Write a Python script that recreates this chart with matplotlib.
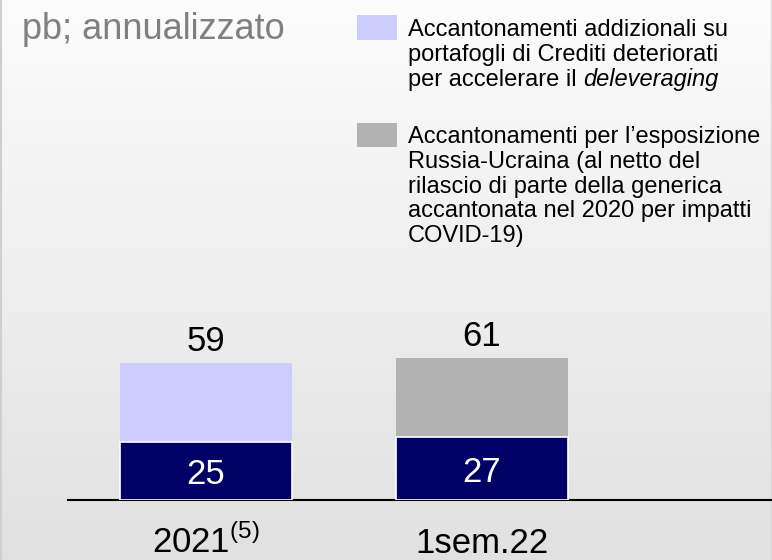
import numpy as np
import matplotlib
matplotlib.use("Agg")
import matplotlib.pyplot as plt
from matplotlib.patches import Rectangle

plt.rcParams['font.family'] = ['Liberation Sans', 'DejaVu Sans']
plt.rcParams['mathtext.fontset'] = 'custom'
plt.rcParams['mathtext.rm'] = 'Liberation Sans'

# data (pb, annualised)
categories = ["2021$^{\\mathrm{(5)}}$", "1sem.22"]
base_values = [25, 27]
extra_values = [34, 34]
totals = [59, 61]
extra_colors = ["#ccccff", "#b2b2b2"]
legend_lines = [
    ["Accantonamenti addizionali su", "portafogli di Crediti deteriorati", "per accelerare il"],
    ["Accantonamenti per l\u2019esposizione", "Russia-Ucraina (al netto del",
     "rilascio di parte della generica", "accantonata nel 2020 per impatti", "COVID-19)"],
]
legend_italic_tail = ["deleveraging", None]
title = "pb; annualizzato"

W, H = 772, 560
NAVY = "#000066"
LEG_FS = 17

fig = plt.figure(figsize=(W / 100, H / 100), dpi=100)


def fx(px):
    return px / W


def fy(py):
    return 1 - py / H


# gradient background
bg = fig.add_axes([0, 0, 1, 1], zorder=-10)
grad = np.linspace(252, 225, 256).reshape(-1, 1) / 255.0
bg.imshow(np.dstack([grad, grad, grad]), aspect='auto', extent=[0, 1, 0, 1])
bg.axvline(0.001, color="#cfcfcf", lw=1.5)
bg.axvline(fx(770.5), color="#d8d8d8", lw=1.0)
bg.set_xlim(0, 1)
bg.set_ylim(0, 1)
bg.axis('off')

# main bar axes
px_per_unit = 2.32
ax_left, ax_right, ax_bottom, ax_top = 68, 772, 500, 300
ax = fig.add_axes([fx(ax_left), fy(ax_bottom), fx(ax_right - ax_left), (ax_bottom - ax_top) / H])
ax.patch.set_alpha(0)
spacing = 275.5
ax.set_xlim(-(206 - ax_left) / spacing, (ax_right - 206) / spacing)
ax.set_ylim(0, (ax_bottom - ax_top) / px_per_unit)

x = np.arange(len(categories))
width = 172 / spacing
ax.bar(x, base_values, width=width, color=NAVY, edgecolor="white", linewidth=1.2, zorder=3)
ax.bar(x, extra_values, width=width, bottom=base_values, color=extra_colors, linewidth=0, zorder=2)

for i in range(len(categories)):
    ax.annotate(str(base_values[i]), xy=(x[i], base_values[i] / 2), xytext=(0, -9.5),
                textcoords='offset points', ha='center', va='baseline',
                color="white", fontsize=25)
    ax.annotate(str(totals[i]), xy=(x[i], totals[i]), xytext=(0, 9),
                textcoords='offset points', ha='center', va='baseline',
                color="black", fontsize=25)
    ax.annotate(categories[i], xy=(x[i], 0), xycoords=ax.get_xaxis_transform(),
                xytext=(0, -38), textcoords='offset points', ha='center', va='baseline',
                color="black", fontsize=25)

for s in ['top', 'right', 'left']:
    ax.spines[s].set_visible(False)
ax.spines['bottom'].set_linewidth(1.5)
ax.spines['bottom'].set_color('black')
ax.set_xticks([])
ax.set_yticks([])

# title
fig.text(fx(22), fy(39), title, ha='left', va='baseline', fontsize=26, color="#808080")

# legend
patch_y = [(15, 40), (123, 147)]
first_baseline = [36, 143]
line_step = 24.8
for (y0, y1), b0, lines, tail, col in zip(patch_y, first_baseline, legend_lines,
                                          legend_italic_tail, extra_colors):
    fig.patches.append(Rectangle((fx(357), fy(y1)), fx(40), (y1 - y0) / H,
                                 transform=fig.transFigure, facecolor=col, edgecolor='none'))
    last = None
    for k, line in enumerate(lines):
        last = fig.text(fx(408), fy(b0 + k * line_step), line, ha='left', va='baseline',
                        fontsize=LEG_FS, color="black")
    if tail:
        # italic word continues the last line after a space
        bg.annotate(tail, xy=(1, 0), xycoords=last, xytext=(0.278 * LEG_FS, 0),
                    textcoords='offset points', ha='left', va='bottom',
                    fontsize=LEG_FS, style='italic', color="black")

fig.savefig("out.png", dpi=100)
